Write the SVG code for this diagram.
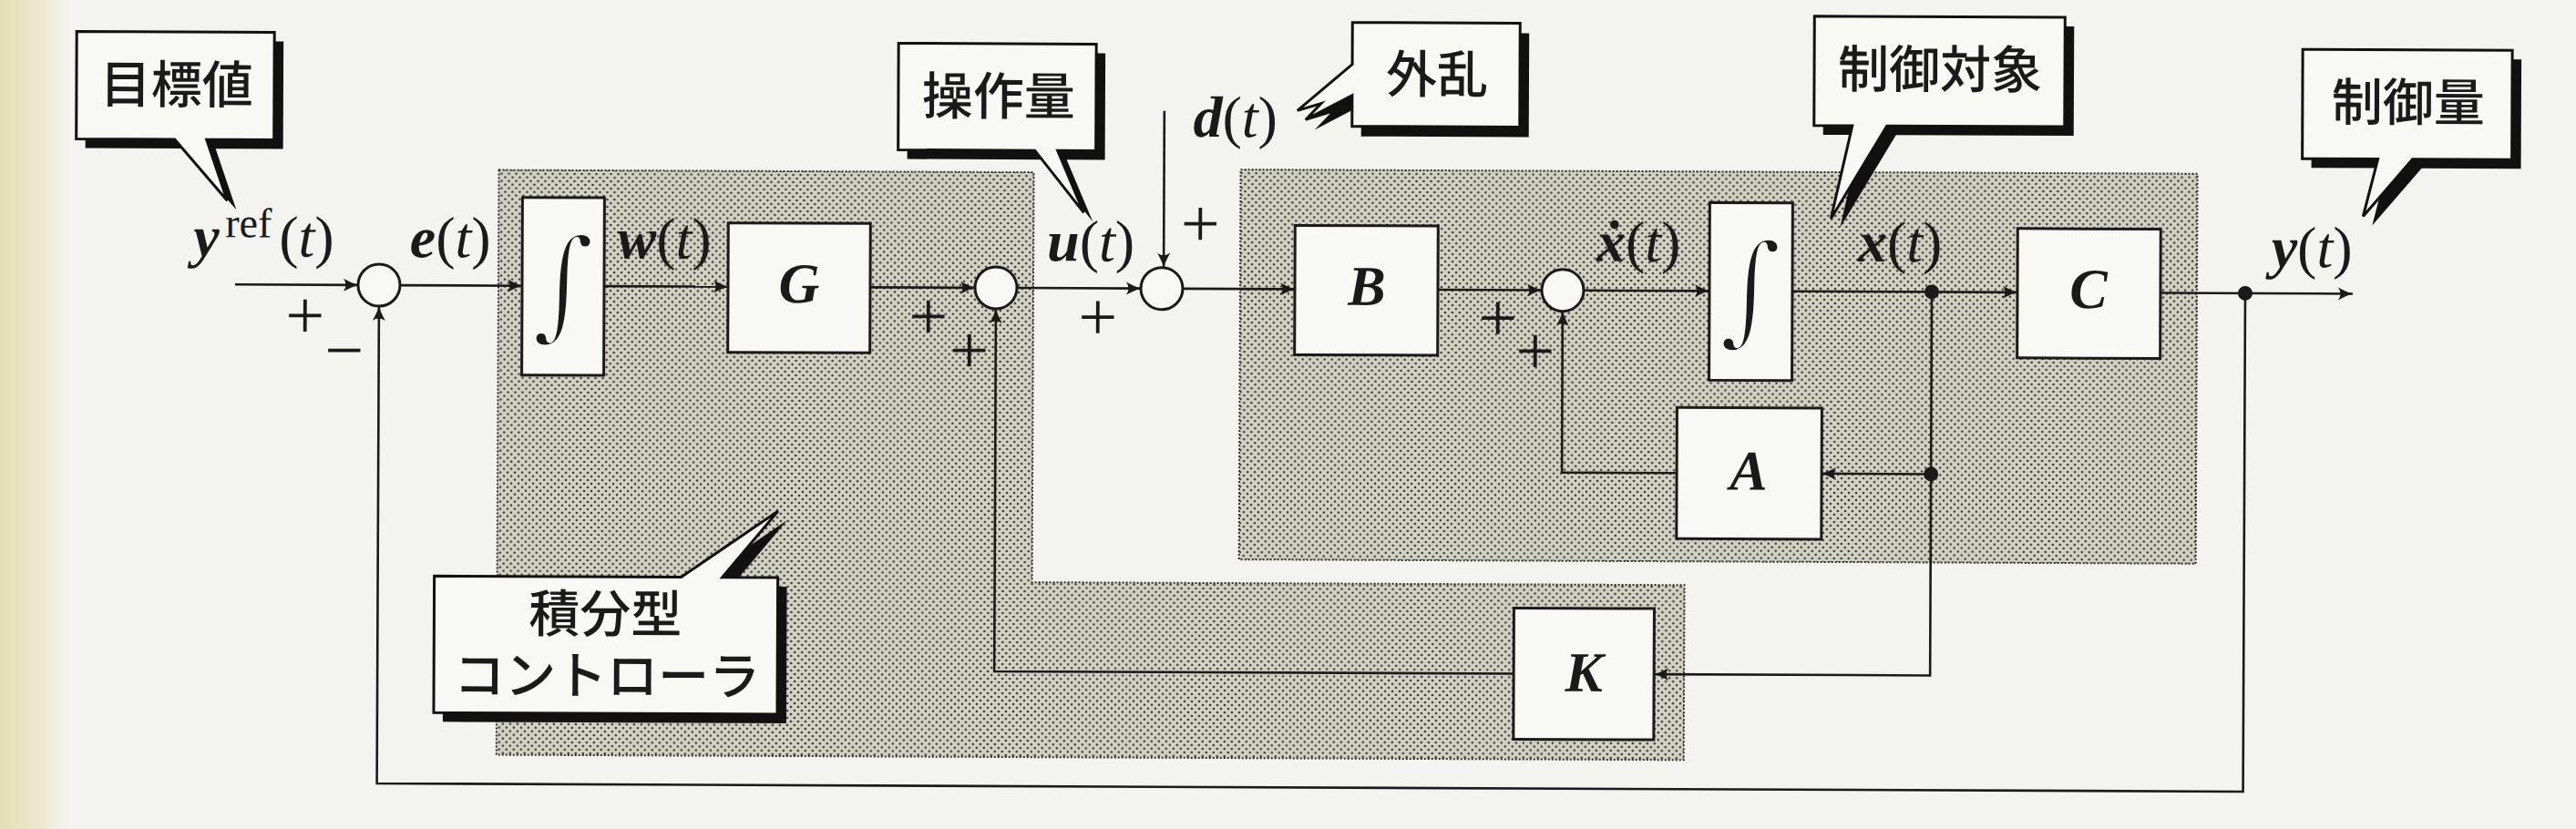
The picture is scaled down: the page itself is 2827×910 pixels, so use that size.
<svg xmlns="http://www.w3.org/2000/svg" width="2827" height="910" viewBox="0 0 2827 910">
<defs>
<pattern id="dots" width="8" height="8" patternUnits="userSpaceOnUse">
<rect width="8" height="8" fill="#d3d3c5"/>
<circle cx="2" cy="2" r="1.35" fill="#3a3a32"/>
<circle cx="6" cy="6" r="1.35" fill="#3a3a32"/>
</pattern>
<linearGradient id="bind" x1="0" y1="0" x2="1" y2="0">
<stop offset="0" stop-color="#e4dfb6"/>
<stop offset="0.6" stop-color="#ece9cf"/>
<stop offset="1" stop-color="#f3f3f0" stop-opacity="0"/>
</linearGradient>
<marker id="ah" viewBox="-17 -8 18 16" refX="0" refY="0" markerWidth="18" markerHeight="16" markerUnits="userSpaceOnUse" orient="auto">
<path d="M-16,-7 Q-6,-1.5 0,0 Q-6,1.5 -16,7 Q-11,0 -16,-7 Z" fill="#1a1a1a"/>
</marker>
<style>
.ln{fill:none;stroke:#1a1a1a;stroke-width:2.6}
.arr{marker-end:url(#ah)}
.box{fill:#f8f8f5;stroke:#1a1a1a;stroke-width:3}
.sum{fill:#f8f8f5;stroke:#1a1a1a;stroke-width:3}
.dot{fill:#1a1a1a}
.reg{fill:url(#dots);stroke:#2e2e28;stroke-width:2;stroke-dasharray:2 2}
.m{font-family:"Liberation Serif","DejaVu Serif",serif;font-size:64px;fill:#1a1a1a;text-anchor:middle}
.bi{font-weight:bold;font-style:italic}
.it{font-style:italic}
.blk{font-family:"Liberation Serif","DejaVu Serif",serif;font-size:62px;font-weight:bold;font-style:italic;text-anchor:middle;fill:#1a1a1a}
.pm{font-family:"Liberation Serif","DejaVu Serif",serif;font-size:76px;text-anchor:middle;fill:#1a1a1a}
.int{font-family:"DejaVu Serif",serif;font-size:134px;text-anchor:middle;fill:#1a1a1a;stroke:#f8f8f5;stroke-width:5}
.jp{font-family:"Noto Sans CJK JP","Noto Sans CJK SC",sans-serif;font-size:56px;font-weight:500;text-anchor:middle;fill:#1a1a1a}
.co{fill:#f8f8f5;stroke:#111;stroke-width:3;stroke-linejoin:miter}
.sh{fill:#111}
</style>
</defs>
<rect width="2827" height="910" fill="#f3f3f0"/>
<rect width="80" height="910" fill="url(#bind)"/>
<g transform="rotate(0.25 416 313)">
<g id="regions">
<path id="controller-region" class="reg" d="M547,186 H1134 V636 H1850 V828 H547 Z"/>
<path id="plant-region" class="reg" d="M1361,182 H2411 V610 H1361 Z"/>
</g>
<g id="connectors">
<path class="ln arr" d="M258,313 H393"/>
<path class="ln arr" d="M439,313 H573"/>
<path class="ln arr" d="M663,313 H799"/>
<path class="ln arr" d="M955,313 H1070"/>
<path class="ln arr" d="M1116,313 H1252"/>
<path class="ln arr" d="M1298,313 H1421"/>
<path class="ln arr" d="M1578,313 H1692"/>
<path class="ln arr" d="M1738,313 H1876"/>
<path class="ln arr" d="M1967,313 H2214"/>
<path class="ln arr" d="M2371,313 H2582"/>
<path class="ln arr" d="M1277,118 V290"/>
<path class="ln arr" d="M2120,313 V513 H2000"/>
<path class="ln arr" d="M1841,513 H1715 V336"/>
<path class="ln arr" d="M2120,513 V734 H1817"/>
<path class="ln arr" d="M1663,734 H1093 V336"/>
<path class="ln arr" d="M2464,313 V860 H416 V336"/>
<circle class="dot" cx="2120" cy="313" r="8"/>
<circle class="dot" cx="2120" cy="513" r="8"/>
<circle class="dot" cx="2464" cy="313" r="8"/>
</g>
<g id="sum1"><circle class="sum" cx="416" cy="313" r="23"/>
<text class="pm"><tspan x="335" y="372">+</tspan><tspan x="378" y="410">−</tspan></text></g>
<g id="sum2"><circle class="sum" cx="1093" cy="313" r="23"/>
<text class="pm"><tspan x="1019" y="370">+</tspan><tspan x="1064" y="407">+</tspan></text></g>
<g id="sum3"><circle class="sum" cx="1275" cy="313" r="23"/>
<text class="pm" x="1205" y="370">+</text><text class="pm" x="1317" y="267">+</text></g>
<g id="sum4"><circle class="sum" cx="1715" cy="313" r="23"/>
<text class="pm"><tspan x="1644" y="369">+</tspan><tspan x="1685" y="405">+</tspan></text></g>
<g id="integrator1"><rect class="box" x="573" y="216" width="90" height="195"/>
<text class="int" x="618" y="356">∫</text></g>
<g id="block-G"><rect class="box" x="799" y="243" width="156" height="142"/>
<text class="blk" x="877" y="330">G</text></g>
<g id="block-B"><rect class="box" x="1421" y="243" width="157" height="142"/>
<text class="blk" x="1500" y="330">B</text></g>
<g id="integrator2"><rect class="box" x="1876" y="216" width="91" height="195"/>
<text class="int" x="1921" y="356">∫</text></g>
<g id="block-C"><rect class="box" x="2214" y="243" width="157" height="142"/>
<text class="blk" x="2292" y="330">C</text></g>
<g id="block-A"><rect class="box" x="1841" y="441" width="159" height="144"/>
<text class="blk" x="1920" y="531">A</text></g>
<g id="block-K"><rect class="box" x="1663" y="662" width="154" height="144"/>
<text class="blk" x="1740" y="753">K</text></g>
<g id="labels">
<text class="m" x="212" y="282" style="text-anchor:start"><tspan class="bi">y</tspan><tspan x="247" y="261" font-size="46">ref</tspan><tspan x="306" y="282">(</tspan><tspan class="it">t</tspan>)</text>
<text class="m" x="494" y="282"><tspan class="bi">e</tspan>(<tspan class="it">t</tspan>)</text>
<text class="m" x="729" y="282"><tspan class="bi">w</tspan>(<tspan class="it">t</tspan>)</text>
<text class="m" x="1197" y="283"><tspan class="bi">u</tspan>(<tspan class="it">t</tspan>)</text>
<text class="m" x="1355" y="146"><tspan class="bi">d</tspan>(<tspan class="it">t</tspan>)</text>
<text class="m" x="1798" y="281"><tspan class="bi">ẋ</tspan>(<tspan class="it">t</tspan>)</text>
<text class="m" x="2085" y="280"><tspan class="bi">x</tspan>(<tspan class="it">t</tspan>)</text>
<text class="m" x="2537" y="284"><tspan class="bi">y</tspan>(<tspan class="it">t</tspan>)</text>
</g>
<g id="callout-target">
<path class="sh" transform="translate(10,10)" d="M83,36 H300 V154 H226 L249,221 L191,154 H83 Z"/>
<path class="co" d="M83,36 H300 V154 H226 L249,221 L191,154 H83 Z"/>
<text class="jp" x="193" y="114">目標値</text></g>
<g id="callout-input">
<path class="sh" transform="translate(10,10)" d="M985,45 H1202 V162 H1160 L1189,230 L1135,162 H985 Z"/>
<path class="co" d="M985,45 H1202 V162 H1160 L1189,230 L1135,162 H985 Z"/>
<text class="jp" x="1095" y="123">操作量</text></g>
<g id="callout-disturbance">
<path class="sh" transform="translate(10,11)" d="M1483,20 H1667 V134 H1483 V100 L1432,127 L1449,109 L1423,117 L1483,66 Z"/>
<path class="co" d="M1483,20 H1667 V134 H1483 V100 L1432,127 L1449,109 L1423,117 L1483,66 Z"/>
<text class="jp" x="1576" y="97">外乱</text></g>
<g id="callout-plant">
<path class="sh" transform="translate(10,10)" d="M1990,11 H2265 V131 H2070 L2009,233 L2032,131 H1990 Z"/>
<path class="co" d="M1990,11 H2265 V131 H2070 L2009,233 L2032,131 H1990 Z"/>
<text class="jp" x="2128" y="89">制御対象</text></g>
<g id="callout-output">
<path class="sh" transform="translate(10,10)" d="M2526,45 H2756 V165 H2647 L2593,228 L2609,165 H2526 Z"/>
<path class="co" d="M2526,45 H2756 V165 H2647 L2593,228 L2609,165 H2526 Z"/>
<text class="jp" x="2642" y="123">制御量</text></g>
<g id="callout-controller">
<path class="sh" transform="translate(10,10)" d="M478,632 H749 L855,559 L794,632 H855 V782 H478 Z"/>
<path class="co" d="M478,632 H749 L855,559 L794,632 H855 V782 H478 Z"/>
<text class="jp" x="666" y="693">積分型</text>
<text class="jp" x="668" y="761">コントローラ</text></g>
</g>
</svg>
